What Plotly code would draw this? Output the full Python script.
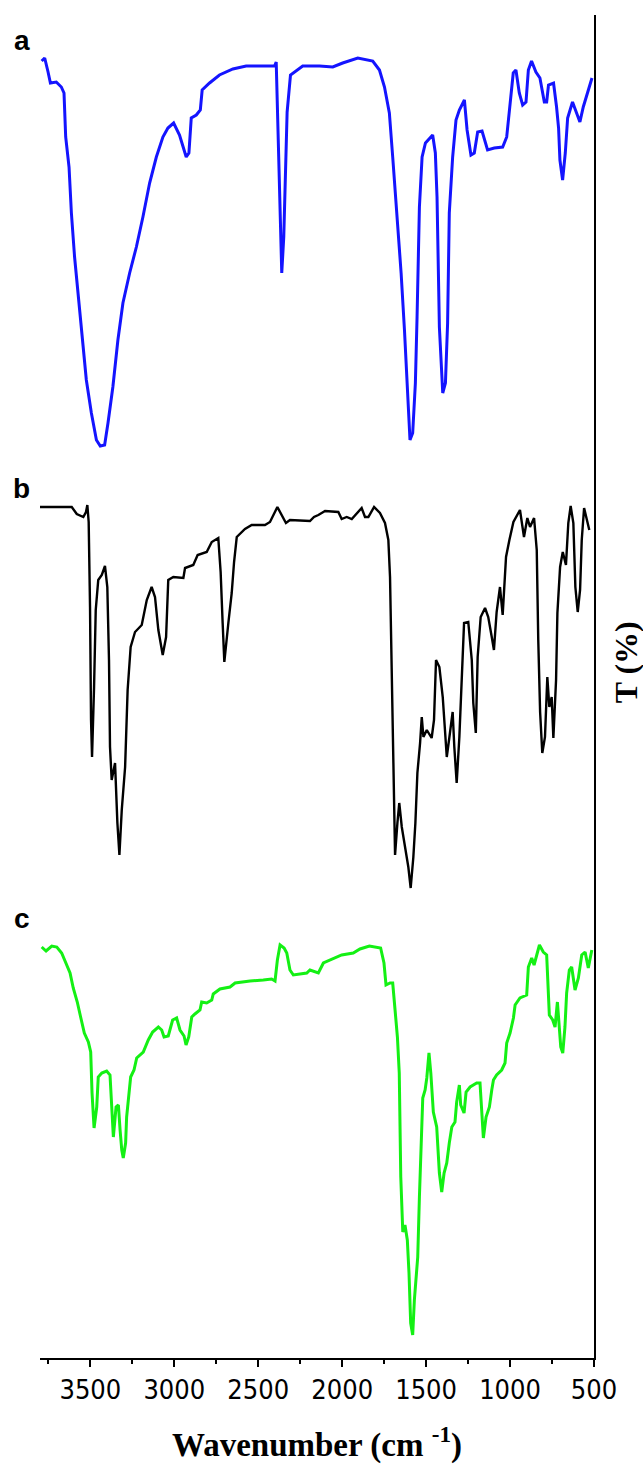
import plotly.graph_objects as go

# ---------------- data ----------------
# wavenumber (cm-1) and transmittance (arbitrary units, per spectrum)
wn_a = [3790, 3772, 3752, 3738, 3703, 3673, 3657, 3647, 3627, 3613, 3594, 3574, 3548, 3524, 3494,
        3464, 3441, 3415, 3395, 3366, 3336, 3306, 3266, 3226, 3187, 3147, 3107, 3068, 3038, 3004,
        2969, 2945, 2929, 2913, 2899, 2869, 2845, 2834, 2790, 2731, 2651, 2572, 2403, 2393, 2383,
        2373, 2360, 2348, 2338, 2328, 2308, 2274, 2235, 2135, 2056, 1997, 1907, 1818, 1778, 1748,
        1719, 1699, 1675, 1649, 1629, 1610, 1596, 1580, 1564, 1554, 1540, 1524, 1504, 1461, 1445,
        1435, 1421, 1401, 1385, 1372, 1362, 1342, 1322, 1302, 1272, 1256, 1233, 1213, 1193, 1167,
        1134, 1094, 1044, 1020, 1004, 994, 981, 965, 945, 925, 905, 891, 872, 846, 822,
        796, 782, 771, 741, 723, 711, 703, 687, 671, 657, 628, 608, 584, 564, 539, 512]
t_a = [399, 402, 388, 377, 378, 373, 367, 323, 293, 247, 203, 167, 120, 80, 47,
       20, 14, 15, 37, 73, 120, 157, 187, 213, 243, 277, 303, 323, 332, 337,
       325, 313, 303, 307, 342, 345, 350, 370, 377, 385, 391, 394, 394, 398, 333,
       253, 187, 223, 302, 348, 385, 389, 394, 394, 393, 397, 402, 399, 390, 373,
       347, 303, 247, 187, 130, 57, 20, 27, 77, 143, 253, 303, 317, 325, 307,
       263, 133, 67, 77, 137, 247, 303, 340, 350, 360, 330, 305, 307, 328, 329,
       310, 312, 313, 323, 348, 370, 387, 390, 367, 355, 358, 390, 399, 388, 382,
       358, 358, 375, 377, 353, 332, 300, 280, 307, 342, 358, 348, 338, 353, 367, 382]

wn_b = [3805, 3611, 3581, 3542, 3526, 3518, 3510, 3502, 3496, 3490, 3478, 3468, 3453, 3432, 3413,
        3399, 3389, 3383, 3373, 3353, 3339, 3327, 3313, 3293, 3278, 3260, 3234, 3194, 3164, 3135,
        3115, 3095, 3069, 3049, 3036, 3006, 2946, 2936, 2887, 2861, 2807, 2777, 2738, 2724, 2712,
        2702, 2678, 2658, 2644, 2628, 2579, 2539, 2460, 2430, 2386, 2360, 2335, 2311, 2192, 2168,
        2142, 2102, 2023, 2003, 1973, 1943, 1913, 1884, 1864, 1844, 1810, 1775, 1745, 1725, 1715,
        1705, 1695, 1685, 1671, 1660, 1645, 1620, 1606, 1592, 1576, 1564, 1552, 1536, 1526, 1516,
        1496, 1467, 1453, 1441, 1421, 1401, 1387, 1377, 1362, 1342, 1332, 1318, 1302, 1288, 1274,
        1249, 1228, 1219, 1204, 1193, 1175, 1149, 1130, 1109, 1096, 1080, 1060, 1044, 1034, 1024,
        1004, 980, 941, 917, 897, 881, 857, 841, 832, 821, 808, 792, 778, 766, 752,
        742, 726, 718, 702, 686, 667, 653, 639, 623, 611, 597, 583, 573, 559, 543, 528]
t_b = [393, 393, 386, 383, 388, 395, 378, 293, 180, 143, 213, 290, 320, 325, 334,
       313, 240, 153, 120, 137, 77, 45, 90, 133, 210, 253, 268, 275, 300, 313,
       303, 270, 245, 263, 320, 323, 322, 332, 335, 345, 348, 358, 362, 328, 277,
       238, 277, 307, 338, 363, 371, 375, 375, 378, 393, 385, 377, 380, 379, 383,
       385, 389, 388, 381, 383, 381, 387, 392, 383, 383, 393, 387, 377, 360, 323,
       223, 127, 45, 77, 97, 73, 50, 33, 12, 43, 77, 127, 157, 183, 163,
       170, 162, 180, 240, 233, 203, 173, 143, 162, 188, 153, 117, 163, 228, 277,
       278, 240, 197, 167, 243, 283, 292, 283, 263, 250, 288, 313, 285, 313, 343,
       360, 378, 390, 363, 382, 373, 382, 350, 260, 188, 147, 163, 223, 193, 203,
       162, 220, 287, 333, 348, 335, 377, 394, 377, 313, 288, 310, 360, 392, 380, 370]

wn_c = [3790, 3764, 3730, 3700, 3671, 3645, 3621, 3602, 3578, 3558, 3536, 3512, 3498, 3490, 3478,
        3462, 3453, 3432, 3403, 3383, 3373, 3363, 3347, 3333, 3323, 3313, 3304, 3290, 3284, 3274,
        3260, 3240, 3224, 3185, 3155, 3129, 3095, 3075, 3061, 3036, 3010, 2986, 2966, 2942, 2930,
        2914, 2896, 2877, 2847, 2837, 2807, 2777, 2768, 2728, 2668, 2638, 2549, 2470, 2420, 2400,
        2386, 2370, 2346, 2330, 2311, 2291, 2211, 2192, 2142, 2112, 2073, 2003, 1934, 1894, 1838,
        1771, 1751, 1739, 1715, 1699, 1685, 1671, 1660, 1651, 1639, 1626, 1612, 1602, 1592, 1580,
        1570, 1560, 1550, 1540, 1530, 1520, 1506, 1496, 1483, 1472, 1457, 1437, 1421, 1407, 1393,
        1377, 1362, 1347, 1328, 1318, 1302, 1294, 1274, 1262, 1238, 1199, 1179, 1169, 1159, 1143,
        1123, 1109, 1099, 1080, 1050, 1030, 1020, 1000, 980, 970, 941, 901, 891, 871, 857,
        825, 802, 782, 775, 766, 746, 732, 718, 706, 698, 686, 673, 663, 647, 633,
        613, 593, 573, 553, 534, 513]
t_c = [398, 394, 399, 398, 392, 382, 372, 357, 343, 328, 312, 303, 293, 252, 217,
       238, 268, 272, 274, 270, 238, 208, 238, 240, 215, 195, 187, 202, 228, 245,
       268, 275, 287, 293, 305, 313, 318, 315, 308, 309, 325, 327, 315, 309, 300,
       308, 328, 331, 335, 343, 342, 345, 351, 356, 358, 362, 364, 365, 366, 364,
       385, 400, 397, 392, 375, 370, 372, 375, 372, 382, 385, 390, 392, 396, 399,
       397, 382, 360, 362, 362, 335, 308, 272, 168, 113, 120, 105, 72, 22, 10,
       45, 65, 88, 148, 207, 247, 255, 267, 292, 272, 233, 218, 172, 153, 172,
       182, 202, 218, 223, 243, 260, 240, 232, 253, 258, 262, 262, 235, 207, 228,
       238, 255, 265, 270, 275, 282, 302, 312, 327, 340, 347, 350, 378, 387, 380,
       400, 393, 390, 355, 330, 325, 318, 343, 315, 298, 292, 318, 352, 375, 378,
       355, 367, 390, 393, 377, 395]

labels = ["a", "b", "c"]
colors = ["#1414ff", "#000000", "#14f014"]
x_ticks = [3500, 3000, 2500, 2000, 1500, 1000, 500]
x_minor = [3750, 3250, 2750, 2250, 1750, 1250, 750]

# vertical stacking offsets of the three spectra (plot units)
offsets = [898, 458, 13]
widths = [3, 2.4, 3]

fig = go.Figure()
for wn, t, off, col, w in zip([wn_a, wn_b, wn_c], [t_a, t_b, t_c], offsets, colors, widths):
    fig.add_trace(go.Scatter(x=wn, y=[v + off for v in t], mode="lines",
                             line=dict(color=col, width=w), showlegend=False,
                             hoverinfo="skip"))

label_y = [0.9807, 0.6478, 0.3276]
for lab, yy in zip(labels, label_y):
    fig.add_annotation(text="<b>%s</b>" % lab, xref="paper", yref="paper",
                       x=-0.0325, y=yy, showarrow=False, xanchor="center", yanchor="middle",
                       font=dict(family="Liberation Sans, Arial, sans-serif", size=28, color="black"))

fig.add_annotation(text="<b>T (%)</b>", xref="paper", yref="paper", x=1.0578, y=0.518,
                   textangle=-90, showarrow=False, xanchor="center", yanchor="middle",
                   font=dict(family="Liberation Serif, Times New Roman, serif", size=32, color="black"))
fig.add_annotation(text="<b>Wavenumber (cm <sup>-1</sup>)</b>", xref="paper", yref="paper",
                   x=0.5, y=-0.063, showarrow=False, xanchor="center", yanchor="middle",
                   font=dict(family="Liberation Serif, Times New Roman, serif", size=33, color="black"))

fig.update_layout(
    width=643, height=1467,
    margin=dict(l=40, r=49, t=15, b=109),
    paper_bgcolor="white", plot_bgcolor="white",
    xaxis=dict(range=[3800, 500], showgrid=False, zeroline=False,
               showline=True, linecolor="black", linewidth=1.5,
               tickmode="array", tickvals=x_ticks, ticktext=[str(v) for v in x_ticks],
               ticks="outside", ticklen=7, tickwidth=1.5, tickcolor="black",
               tickfont=dict(family="Liberation Sans Narrow, DejaVu Sans Condensed, Arial Narrow, sans-serif",
                             size=27, color="black"),
               minor=dict(tickmode="array", tickvals=x_minor, ticks="outside", ticklen=4,
                          tickwidth=1.5, tickcolor="black", showgrid=False)),
    yaxis=dict(range=[0, 1343], side="right", showgrid=False, zeroline=False,
               showline=True, linecolor="black", linewidth=1.5,
               showticklabels=False, ticks=""),
)

fig.write_html("out.html", config={"displayModeBar": False},
               post_script="document.body.style.margin='0';document.body.style.overflow='hidden';")
